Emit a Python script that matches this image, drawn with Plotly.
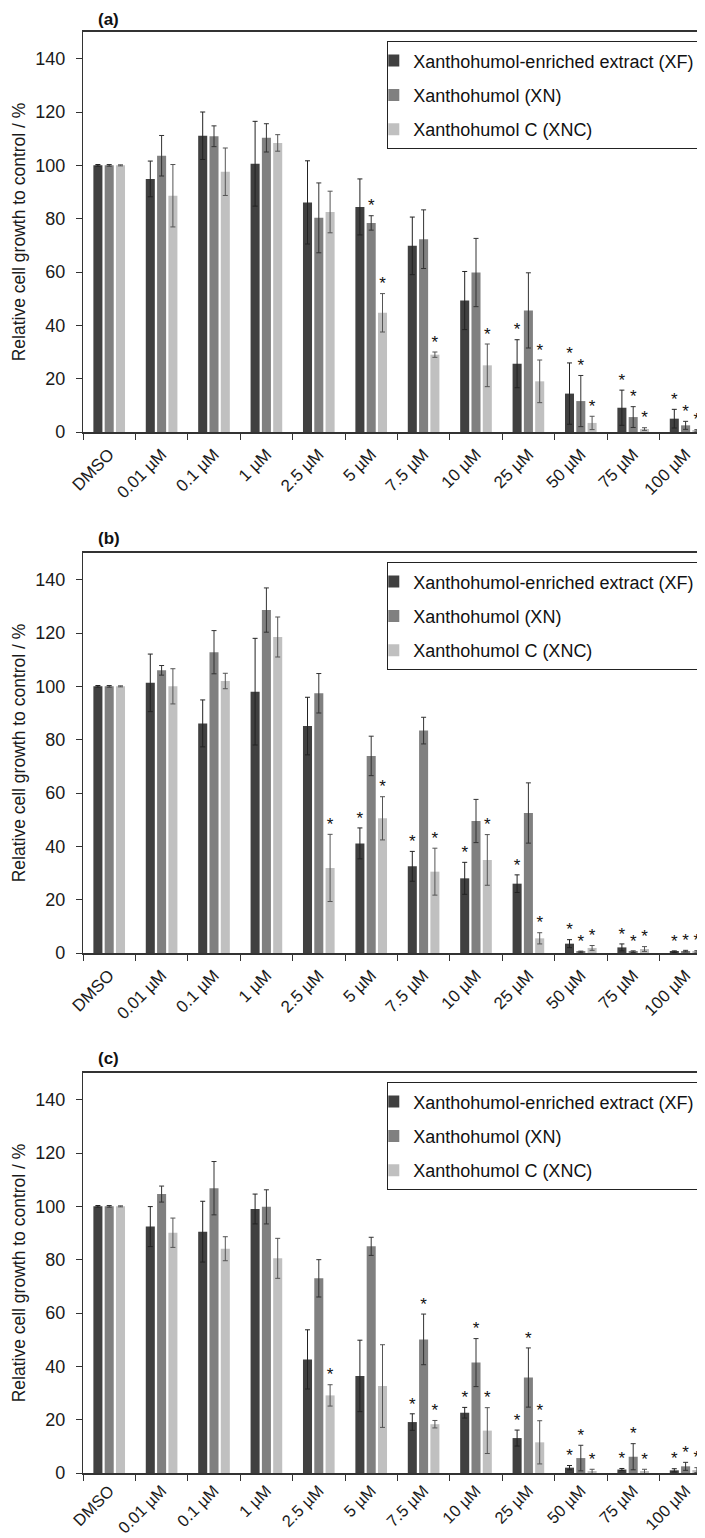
import plotly.graph_objects as go
from plotly.subplots import make_subplots

categories = ["DMSO", "0.01 µM", "0.1 µM", "1 µM", "2.5 µM", "5 µM", "7.5 µM",
              "10 µM", "25 µM", "50 µM", "75 µM", "100 µM"]
series_names = ["Xanthohumol-enriched extract (XF)", "Xanthohumol (XN)", "Xanthohumol C (XNC)"]
series_colors = ["#404040", "#808080", "#c0c0c0"]
error_colors = ["#222222", "#333333", "#555555"]
y_ticks = [0, 20, 40, 60, 80, 100, 120, 140]
panel_labels = ["(a)", "(b)", "(c)"]
y_title = "Relative cell growth to control / %"

# ---- panel (a)
xf_a = [100, 94.9, 111.1, 100.6, 86.1, 84.4, 69.8, 49.3, 25.6, 14.4, 9.1, 5.0]
xf_a_err = [0.3, 6.7, 8.9, 15.9, 15.6, 10.5, 10.8, 10.9, 9.0, 11.5, 6.6, 3.5]
xn_a = [100, 103.6, 110.9, 110.3, 80.3, 78.4, 72.3, 59.8, 45.6, 11.6, 5.6, 2.5]
xn_a_err = [0.3, 7.6, 3.9, 5.3, 13.1, 2.7, 11.0, 12.8, 14.1, 9.6, 3.9, 1.5]
xnc_a = [100, 88.6, 97.6, 108.4, 82.5, 44.7, 29.0, 25.0, 19.0, 3.4, 1.1, 0.6]
xnc_a_err = [0.2, 11.7, 8.9, 3.1, 7.8, 7.2, 1.0, 8.0, 8.0, 2.5, 0.5, 0.3]
xf_a_sig = [0, 0, 0, 0, 0, 0, 0, 0, 1, 1, 1, 1]
xn_a_sig = [0, 0, 0, 0, 0, 1, 0, 0, 0, 1, 1, 1]
xnc_a_sig = [0, 0, 0, 0, 0, 1, 1, 1, 1, 1, 1, 1]

# ---- panel (b)
xf_b = [100, 101.3, 86.1, 98.0, 85.1, 41.1, 32.5, 28.0, 26.0, 3.5, 2.1, 0.5]
xf_b_err = [0.3, 10.8, 8.8, 20.0, 10.8, 5.8, 5.6, 6.0, 3.3, 1.5, 1.3, 0.3]
xn_b = [100, 106.0, 112.8, 128.6, 97.4, 73.9, 83.4, 49.5, 52.5, 0.4, 0.5, 0.7]
xn_b_err = [0.3, 1.8, 8.1, 8.3, 7.4, 7.4, 5.0, 8.1, 11.3, 0.3, 0.3, 0.3]
xnc_b = [100, 100.0, 102.0, 118.5, 31.9, 50.5, 30.5, 34.9, 5.5, 1.9, 1.5, 0.6]
xnc_b_err = [0.2, 6.6, 2.9, 7.5, 12.6, 8.1, 8.8, 9.5, 2.1, 0.9, 0.9, 0.3]
xf_b_sig = [0, 0, 0, 0, 0, 1, 1, 1, 1, 1, 1, 1]
xn_b_sig = [0, 0, 0, 0, 0, 0, 0, 0, 0, 1, 1, 1]
xnc_b_sig = [0, 0, 0, 0, 1, 1, 1, 1, 1, 1, 1, 1]

# ---- panel (c)
xf_c = [100, 92.4, 90.5, 99.0, 42.6, 36.4, 19.1, 22.6, 13.1, 2.0, 1.3, 1.0]
xf_c_err = [0.3, 7.5, 11.4, 5.6, 11.1, 13.4, 3.1, 2.0, 3.0, 0.8, 0.4, 0.6]
xn_c = [100, 104.6, 106.8, 99.8, 73.0, 85.0, 50.1, 41.4, 35.8, 5.6, 6.1, 2.5]
xn_c_err = [0.3, 3.0, 10.0, 6.4, 7.0, 3.4, 9.5, 9.0, 11.1, 4.8, 4.9, 1.5]
xnc_c = [100, 90.1, 84.1, 80.5, 29.1, 32.6, 18.3, 15.9, 11.5, 0.5, 0.4, 1.1]
xnc_c_err = [0.2, 5.5, 4.5, 7.5, 4.0, 15.5, 1.4, 8.6, 8.1, 0.9, 1.0, 0.9]
xf_c_sig = [0, 0, 0, 0, 0, 0, 1, 1, 1, 1, 1, 1]
xn_c_sig = [0, 0, 0, 0, 0, 0, 1, 1, 1, 1, 1, 1]
xnc_c_sig = [0, 0, 0, 0, 1, 0, 1, 1, 1, 1, 1, 1]

panels = [
    ([xf_a, xn_a, xnc_a], [xf_a_err, xn_a_err, xnc_a_err], [xf_a_sig, xn_a_sig, xnc_a_sig]),
    ([xf_b, xn_b, xnc_b], [xf_b_err, xn_b_err, xnc_b_err], [xf_b_sig, xn_b_sig, xnc_b_sig]),
    ([xf_c, xn_c, xnc_c], [xf_c_err, xn_c_err, xnc_c_err], [xf_c_sig, xn_c_sig, xnc_c_sig]),
]

# The page body has an 8px margin, so the figure is laid out 8px up/left.
OFF = 8
W, H = 705 - OFF, 1538 - OFF
ML, MR, MT = 83 - OFF, 0, 32 - OFF
panel_tops_px = [32 - OFF, 553 - OFF, 1073 - OFF]
panel_h_px = 400
MB = H - (panel_tops_px[2] + panel_h_px)
plot_h = H - MT - MB
plot_w = W - ML - MR
CAT_W = 52.4
FONT = "Arial, Liberation Sans, Helvetica, sans-serif"
label_shift = [1, 3.5, 3.5]
xlabel_standoff = [4, 4, 0]
xlabel_size = [17, 17, 16.5]


def py(px):
    # figure pixel (from top) -> paper y
    return (H - MB - px) / plot_h


def pxx(px):
    return (px - ML) / plot_w


fig = make_subplots(rows=3, cols=1)
legend_names = ["legend", "legend2", "legend3"]

for i, (vals, errs, sigs) in enumerate(panels):
    r = i + 1
    for j in range(3):
        fig.add_trace(go.Bar(
            x=categories, y=vals[j], name=series_names[j],
            marker=dict(color=series_colors[j], line=dict(width=0)),
            error_y=dict(type="data", array=errs[j], visible=True,
                         color=error_colors[j], thickness=1, width=2.5),
            offsetgroup=str(j), legend=legend_names[i],
            legendgroup=f"p{i}s{j}", showlegend=True,
        ), row=r, col=1)
    for j in range(3):
        xs = [categories[k] for k in range(len(categories)) if sigs[j][k]]
        ys = [vals[j][k] + errs[j][k] for k in range(len(categories)) if sigs[j][k]]
        fig.add_trace(go.Scatter(
            x=xs, y=ys, mode="text", text=["*"] * len(xs),
            textposition="top center",
            textfont=dict(size=17, color="#111111", family=FONT),
            offsetgroup=str(j), orientation="v",
            showlegend=False, cliponaxis=False, hoverinfo="skip",
        ), row=r, col=1)

layout_updates = {}
for i in range(3):
    top = panel_tops_px[i]
    bottom = top + panel_h_px
    suffix = "" if i == 0 else str(i + 1)
    layout_updates["yaxis" + suffix] = dict(
        domain=[py(bottom), py(top)], range=[0, 150], tickvals=y_ticks,
        showgrid=False, zeroline=False, showline=True, linecolor="#333333", linewidth=1.3,
        ticks="outside", ticklen=6, tickcolor="#333333", tickwidth=1.3,
        ticklabelstandoff=7,
        tickfont=dict(size=18, color="#1a1a1a", family=FONT),
        title=dict(text=y_title, font=dict(size=17.5, color="#1a1a1a", family=FONT), standoff=5),
        automargin=False,
    )
    layout_updates["xaxis" + suffix] = dict(
        type="category", range=[-0.5, -0.5 + plot_w / CAT_W],
        showgrid=False, zeroline=False, showline=True, mirror=True,
        linecolor="#333333", linewidth=1.5,
        ticks="outside", ticklen=6, tickcolor="#333333", tickwidth=1.3, tickson="boundaries",
        tickangle=-45, ticklabelstandoff=xlabel_standoff[i],
        tickfont=dict(size=xlabel_size[i], color="#1a1a1a", family=FONT),
        automargin=False,
    )
    legend_top = top + 9
    layout_updates[legend_names[i]] = dict(
        x=pxx(700 - OFF), xanchor="right", y=py(legend_top), yanchor="top",
        bgcolor="white", bordercolor="#222222", borderwidth=1.3,
        font=dict(size=18, color="#111111", family=FONT),
        tracegroupgap=8, indentation=-15,
    )

fig.update_layout(**layout_updates)

annotations = []
for i in range(3):
    annotations.append(dict(
        text="<b>" + panel_labels[i] + "</b>", xref="paper", yref="paper",
        x=pxx(96 - OFF), y=py(panel_tops_px[i]), xanchor="left", yanchor="bottom",
        yshift=label_shift[i], showarrow=False,
        font=dict(size=17, color="#111111", family=FONT),
    ))

fig.update_layout(
    width=W, height=H, margin=dict(l=ML, r=MR, t=MT, b=MB, pad=0),
    paper_bgcolor="white", plot_bgcolor="white",
    barmode="group", bargap=0.353, bargroupgap=0.2,
    scattermode="group", scattergap=0.353,
    annotations=annotations,
    font=dict(family=FONT, color="#111111"),
)

fig.write_html("out.html")
